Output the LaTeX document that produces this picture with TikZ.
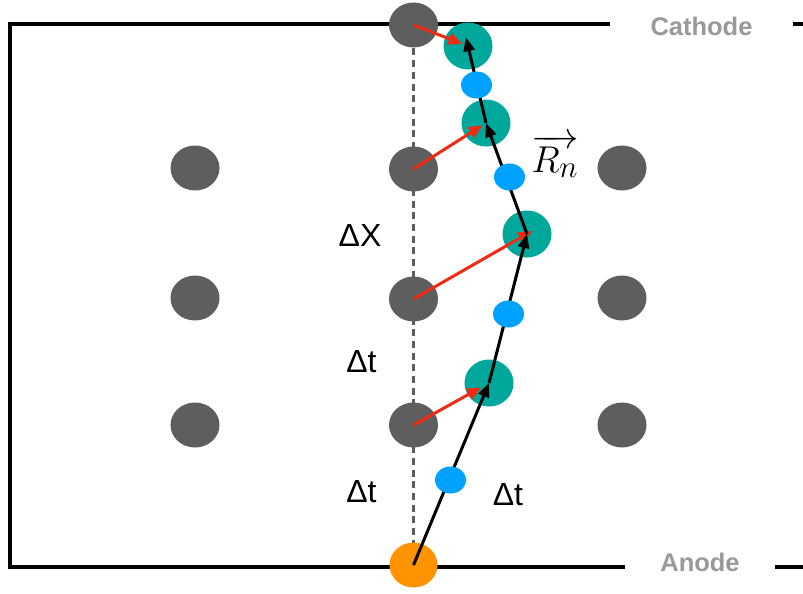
\documentclass[tikz,border=0pt]{standalone}
\usepackage{fontspec}
\usepackage{graphicx}
\usepackage{xcolor}
\usepackage{tikz}
\usetikzlibrary{arrows.meta, shapes.geometric, backgrounds}

\newfontfamily\labelfont{Liberation Sans}
\definecolor{atomgray}{HTML}{5E5E5E}
\definecolor{hitteal}{HTML}{00A89B}
\definecolor{elecblue}{HTML}{00A2FF}
\definecolor{srcorange}{HTML}{FF9300}
\definecolor{pushred}{HTML}{EE2C14}
\definecolor{tagray}{HTML}{999999}

\begin{document}
\begin{tikzpicture}[
    x=1pt, y=-1pt,
    atom/.style={
        ellipse,
        fill=atomgray,
        inner sep=0pt,
        minimum width=49pt,
        minimum height=45pt
    },
    hit/.style={
        ellipse,
        fill=hitteal,
        inner sep=0pt,
        minimum width=49pt,
        minimum height=47pt
    },
    elec/.style={
        ellipse,
        fill=elecblue,
        inner sep=0pt,
        minimum width=31pt,
        minimum height=27pt
    },
    source/.style={
        ellipse,
        fill=srcorange,
        inner sep=0pt,
        minimum width=48pt,
        minimum height=45pt
    },
    electrode/.style={
        font=\labelfont\bfseries\fontsize{25.5}{30}\selectfont,
        text=tagray,
        inner ysep=0pt
    },
    interval/.style={font=\labelfont\fontsize{32}{38}\selectfont, inner sep=0pt},
    wall/.style={line width=4pt},
    track/.style={-{Triangle[length=14pt,width=11pt]}, line width=3pt},
    push/.style={-{Triangle[length=14pt,width=12pt]}, line width=3pt, pushred}
]
\useasboundingbox (0,0) rectangle (803,594);

% Lattice
\node[atom] (l1) at (195,168) {};
\node[atom] (l2) at (195,298) {};
\node[atom] (l3) at (195,425) {};
\node[atom] (a0) at (413.5,25) {};
\node[atom] (a1) at (413.5,169) {};
\node[atom] (a2) at (413.5,299) {};
\node[atom] (a3) at (413.5,425) {};
\node[atom] (r1) at (622,168) {};
\node[atom] (r2) at (622,298) {};
\node[atom] (r3) at (622,425) {};
\node[source] (src) at (413.5,565) {};

% Displaced positions
\node[hit] (h1) at (468,46) {};
\node[hit] (h2) at (486,123) {};
\node[hit] (h3) at (527,234) {};
\node[hit] (h4) at (489,383) {};

% Electrodes
\node[electrode, inner xsep=40pt] (cathode) at (701.5,26) {Cathode};
\node[electrode, inner xsep=35pt] (anode) at (700,562.5) {Anode};
\coordinate (tl) at (9.5,24.5);
\coordinate (bl) at (9.5,567);
\coordinate (tr) at (803,24.5);
\coordinate (br) at (803,567);

\begin{scope}[on background layer]
\draw[wall] (cathode.west |- tl) -- (tl) -- (bl) -- (anode.west |- bl);
\draw[wall] (cathode.east |- tl) -- (tr);
\draw[wall] (anode.east |- bl) -- (br);
\draw[line width=3.2pt, color=atomgray, dash pattern=on 7pt off 4.7pt] (a0.center) -- (src.center);
\end{scope}

% Kicks
\draw[push, shorten >=6pt] (a0.center) -- (h1.center);
\draw[push, shorten >=4pt] (a1.center) -- (h2.center);
\draw[push, shorten >=-6pt] (a2.center) -- (h3.center);
\draw[push, shorten >=9pt] (a3.center) -- (h4.center);

% Path
\draw[track] (src.center) -- (h4.center);
\draw[track] (h4.center) -- (h3.center);
\draw[track] (h3.center) -- (h2.center);
\draw[track, shorten >=-9pt] (h2.center) -- (h1.center);

\node[elec] (e1) at (476.5,85) {};
\node[elec] (e2) at (509.5,177) {};
\node[elec] (e3) at (508.5,314) {};
\node[elec] (e4) at (450.5,480) {};

% Labels
\node[interval] (dx) at (360,235) {ΔX};
\node[interval] (dt1) at (361.5,362) {Δt};
\node[interval] (dt2) at (361.5,492) {Δt};
\node[interval] (dt3) at (508,495) {Δt};
\node[inner sep=0pt] (rn) at (555,156) {\scalebox{1.5}{\Huge$\overrightarrow{R_n}$}};

\end{tikzpicture}
\end{document}
